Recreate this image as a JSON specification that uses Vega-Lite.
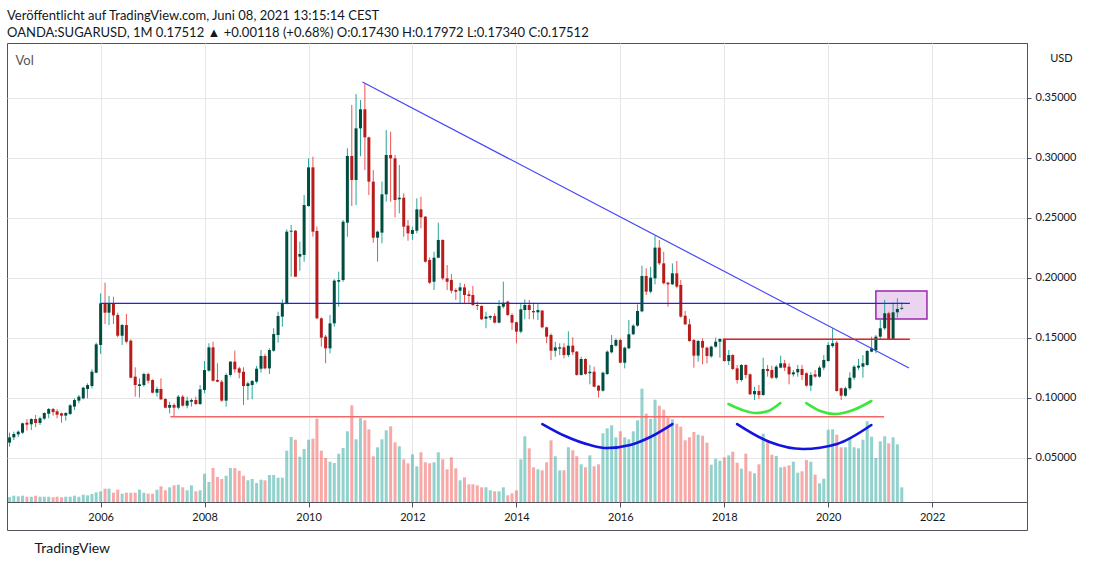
{
  "$schema": "https://vega.github.io/schema/vega-lite/v6.json",
  "width": 1020,
  "height": 459,
  "autosize": "none",
  "padding": {"left": 7, "top": 43, "right": 73, "bottom": 65},
  "background": "white",
  "title": {
    "text": "Veröffentlicht auf TradingView.com, Juni 08, 2021 13:15:14 CEST",
    "subtitle": "OANDA:SUGARUSD, 1M 0.17512 ▲ +0.00118 (+0.68%) O:0.17430 H:0.17972 L:0.17340 C:0.17512",
    "anchor": "start",
    "frame": "group",
    "font": "Lato",
    "fontSize": 13,
    "fontWeight": "normal",
    "color": "#131722",
    "subtitleFont": "Lato",
    "subtitleFontSize": 13,
    "subtitleColor": "#131722",
    "subtitlePadding": 4,
    "offset": 3
  },
  "datasets": {
    "ohlc": [
      {"d": "2004-04-01", "o": 0.0628, "h": 0.0711, "l": 0.0594, "c": 0.0672, "v": 5},
      {"d": "2004-05-01", "o": 0.0672, "h": 0.0719, "l": 0.0650, "c": 0.0700, "v": 6.3},
      {"d": "2004-06-01", "o": 0.0697, "h": 0.0730, "l": 0.0675, "c": 0.0719, "v": 5.7},
      {"d": "2004-07-01", "o": 0.0711, "h": 0.0794, "l": 0.0700, "c": 0.0789, "v": 6.3},
      {"d": "2004-08-01", "o": 0.0794, "h": 0.0825, "l": 0.0728, "c": 0.0778, "v": 5.3},
      {"d": "2004-09-01", "o": 0.0781, "h": 0.0831, "l": 0.0733, "c": 0.0825, "v": 5.3},
      {"d": "2004-10-01", "o": 0.0825, "h": 0.0858, "l": 0.0756, "c": 0.0792, "v": 6.3},
      {"d": "2004-11-01", "o": 0.0792, "h": 0.0844, "l": 0.0775, "c": 0.0831, "v": 5.3},
      {"d": "2004-12-01", "o": 0.0828, "h": 0.0881, "l": 0.0817, "c": 0.0875, "v": 5.3},
      {"d": "2005-01-01", "o": 0.0869, "h": 0.0917, "l": 0.0831, "c": 0.0908, "v": 5.3},
      {"d": "2005-02-01", "o": 0.0908, "h": 0.0917, "l": 0.0853, "c": 0.0883, "v": 4.7},
      {"d": "2005-03-01", "o": 0.0889, "h": 0.0906, "l": 0.0831, "c": 0.0861, "v": 5.3},
      {"d": "2005-04-01", "o": 0.0872, "h": 0.0878, "l": 0.0794, "c": 0.0853, "v": 4.7},
      {"d": "2005-05-01", "o": 0.0853, "h": 0.0881, "l": 0.0811, "c": 0.0875, "v": 5.3},
      {"d": "2005-06-01", "o": 0.0867, "h": 0.0950, "l": 0.0858, "c": 0.0939, "v": 5.3},
      {"d": "2005-07-01", "o": 0.0928, "h": 0.0997, "l": 0.0900, "c": 0.0983, "v": 6.3},
      {"d": "2005-08-01", "o": 0.0978, "h": 0.1025, "l": 0.0956, "c": 0.1011, "v": 5.3},
      {"d": "2005-09-01", "o": 0.0997, "h": 0.1094, "l": 0.0989, "c": 0.1086, "v": 7.3},
      {"d": "2005-10-01", "o": 0.1075, "h": 0.1122, "l": 0.0997, "c": 0.1108, "v": 6.7},
      {"d": "2005-11-01", "o": 0.1100, "h": 0.1239, "l": 0.1081, "c": 0.1219, "v": 8},
      {"d": "2005-12-01", "o": 0.1211, "h": 0.1461, "l": 0.1206, "c": 0.1447, "v": 9.7},
      {"d": "2006-01-01", "o": 0.1442, "h": 0.1872, "l": 0.1367, "c": 0.1789, "v": 10.7},
      {"d": "2006-02-01", "o": 0.1789, "h": 0.1961, "l": 0.1617, "c": 0.1711, "v": 13.3},
      {"d": "2006-03-01", "o": 0.1711, "h": 0.1850, "l": 0.1608, "c": 0.1789, "v": 13.3},
      {"d": "2006-04-01", "o": 0.1789, "h": 0.1844, "l": 0.1617, "c": 0.1689, "v": 9.3},
      {"d": "2006-05-01", "o": 0.1692, "h": 0.1711, "l": 0.1506, "c": 0.1519, "v": 12.3},
      {"d": "2006-06-01", "o": 0.1519, "h": 0.1617, "l": 0.1442, "c": 0.1608, "v": 8.3},
      {"d": "2006-07-01", "o": 0.1608, "h": 0.1700, "l": 0.1456, "c": 0.1469, "v": 9.3},
      {"d": "2006-08-01", "o": 0.1478, "h": 0.1489, "l": 0.1164, "c": 0.1169, "v": 9.3},
      {"d": "2006-09-01", "o": 0.1178, "h": 0.1256, "l": 0.1011, "c": 0.1108, "v": 9.3},
      {"d": "2006-10-01", "o": 0.1100, "h": 0.1164, "l": 0.1003, "c": 0.1114, "v": 12.3},
      {"d": "2006-11-01", "o": 0.1108, "h": 0.1211, "l": 0.1094, "c": 0.1200, "v": 9.3},
      {"d": "2006-12-01", "o": 0.1200, "h": 0.1211, "l": 0.1122, "c": 0.1144, "v": 8.3},
      {"d": "2007-01-01", "o": 0.1150, "h": 0.1156, "l": 0.1039, "c": 0.1044, "v": 8.3},
      {"d": "2007-02-01", "o": 0.1044, "h": 0.1094, "l": 0.1011, "c": 0.1075, "v": 12.3},
      {"d": "2007-03-01", "o": 0.1075, "h": 0.1164, "l": 0.0983, "c": 0.0989, "v": 15.7},
      {"d": "2007-04-01", "o": 0.0992, "h": 0.0997, "l": 0.0914, "c": 0.0919, "v": 11.7},
      {"d": "2007-05-01", "o": 0.0919, "h": 0.0969, "l": 0.0872, "c": 0.0942, "v": 14.7},
      {"d": "2007-06-01", "o": 0.0942, "h": 0.0956, "l": 0.0844, "c": 0.0919, "v": 16.7},
      {"d": "2007-07-01", "o": 0.0919, "h": 0.1025, "l": 0.0906, "c": 0.1011, "v": 17.3},
      {"d": "2007-08-01", "o": 0.1011, "h": 0.1025, "l": 0.0928, "c": 0.0936, "v": 14.7},
      {"d": "2007-09-01", "o": 0.0936, "h": 0.1011, "l": 0.0914, "c": 0.0978, "v": 11.7},
      {"d": "2007-10-01", "o": 0.0969, "h": 0.0997, "l": 0.0928, "c": 0.0983, "v": 16.7},
      {"d": "2007-11-01", "o": 0.0983, "h": 0.1011, "l": 0.0942, "c": 0.0950, "v": 10.7},
      {"d": "2007-12-01", "o": 0.0950, "h": 0.1108, "l": 0.0942, "c": 0.1072, "v": 11.7},
      {"d": "2008-01-01", "o": 0.1067, "h": 0.1308, "l": 0.1039, "c": 0.1233, "v": 28.3},
      {"d": "2008-02-01", "o": 0.1228, "h": 0.1456, "l": 0.1219, "c": 0.1422, "v": 20},
      {"d": "2008-03-01", "o": 0.1422, "h": 0.1469, "l": 0.1136, "c": 0.1144, "v": 34},
      {"d": "2008-04-01", "o": 0.1150, "h": 0.1289, "l": 0.1131, "c": 0.1136, "v": 25},
      {"d": "2008-05-01", "o": 0.1136, "h": 0.1150, "l": 0.0969, "c": 0.0978, "v": 23},
      {"d": "2008-06-01", "o": 0.0978, "h": 0.1206, "l": 0.0928, "c": 0.1192, "v": 26.3},
      {"d": "2008-07-01", "o": 0.1192, "h": 0.1308, "l": 0.1178, "c": 0.1303, "v": 34},
      {"d": "2008-08-01", "o": 0.1303, "h": 0.1394, "l": 0.1211, "c": 0.1239, "v": 34},
      {"d": "2008-09-01", "o": 0.1247, "h": 0.1261, "l": 0.1164, "c": 0.1211, "v": 31.3},
      {"d": "2008-10-01", "o": 0.1219, "h": 0.1256, "l": 0.0942, "c": 0.1100, "v": 26.3},
      {"d": "2008-11-01", "o": 0.1100, "h": 0.1136, "l": 0.0983, "c": 0.1122, "v": 21.7},
      {"d": "2008-12-01", "o": 0.1108, "h": 0.1150, "l": 0.0989, "c": 0.1142, "v": 23},
      {"d": "2009-01-01", "o": 0.1136, "h": 0.1267, "l": 0.1122, "c": 0.1244, "v": 19},
      {"d": "2009-02-01", "o": 0.1244, "h": 0.1400, "l": 0.1211, "c": 0.1350, "v": 22.3},
      {"d": "2009-03-01", "o": 0.1350, "h": 0.1367, "l": 0.1239, "c": 0.1247, "v": 21.7},
      {"d": "2009-04-01", "o": 0.1247, "h": 0.1414, "l": 0.1200, "c": 0.1400, "v": 27},
      {"d": "2009-05-01", "o": 0.1394, "h": 0.1581, "l": 0.1386, "c": 0.1533, "v": 27},
      {"d": "2009-06-01", "o": 0.1525, "h": 0.1719, "l": 0.1461, "c": 0.1683, "v": 24.3},
      {"d": "2009-07-01", "o": 0.1678, "h": 0.1822, "l": 0.1594, "c": 0.1789, "v": 24.3},
      {"d": "2009-08-01", "o": 0.1789, "h": 0.2406, "l": 0.1780, "c": 0.2386, "v": 51.3},
      {"d": "2009-09-01", "o": 0.2386, "h": 0.2442, "l": 0.2011, "c": 0.2394, "v": 65},
      {"d": "2009-10-01", "o": 0.2394, "h": 0.2400, "l": 0.2011, "c": 0.2011, "v": 62.3},
      {"d": "2009-11-01", "o": 0.2178, "h": 0.2303, "l": 0.2061, "c": 0.2200, "v": 45.3},
      {"d": "2009-12-01", "o": 0.2192, "h": 0.2692, "l": 0.2136, "c": 0.2608, "v": 53},
      {"d": "2010-01-01", "o": 0.2600, "h": 0.2997, "l": 0.2594, "c": 0.2922, "v": 62.3},
      {"d": "2010-02-01", "o": 0.2922, "h": 0.3011, "l": 0.2344, "c": 0.2386, "v": 63.3},
      {"d": "2010-03-01", "o": 0.2392, "h": 0.2428, "l": 0.1656, "c": 0.1664, "v": 83.3},
      {"d": "2010-04-01", "o": 0.1664, "h": 0.1672, "l": 0.1428, "c": 0.1503, "v": 51.3},
      {"d": "2010-05-01", "o": 0.1511, "h": 0.1525, "l": 0.1289, "c": 0.1414, "v": 44},
      {"d": "2010-06-01", "o": 0.1414, "h": 0.1692, "l": 0.1372, "c": 0.1622, "v": 40.3},
      {"d": "2010-07-01", "o": 0.1622, "h": 0.1989, "l": 0.1594, "c": 0.1978, "v": 39},
      {"d": "2010-08-01", "o": 0.1969, "h": 0.2053, "l": 0.1761, "c": 0.1983, "v": 48.3},
      {"d": "2010-09-01", "o": 0.1983, "h": 0.2483, "l": 0.1969, "c": 0.2469, "v": 54},
      {"d": "2010-10-01", "o": 0.2461, "h": 0.3081, "l": 0.2344, "c": 0.3017, "v": 70.7},
      {"d": "2010-11-01", "o": 0.3017, "h": 0.3442, "l": 0.2600, "c": 0.2817, "v": 96.7},
      {"d": "2010-12-01", "o": 0.2817, "h": 0.3533, "l": 0.2608, "c": 0.3247, "v": 62.7},
      {"d": "2011-01-01", "o": 0.3247, "h": 0.3483, "l": 0.3014, "c": 0.3406, "v": 84},
      {"d": "2011-02-01", "o": 0.3406, "h": 0.3622, "l": 0.2900, "c": 0.3172, "v": 81.7},
      {"d": "2011-03-01", "o": 0.3172, "h": 0.3178, "l": 0.2692, "c": 0.2803, "v": 72.7},
      {"d": "2011-04-01", "o": 0.2803, "h": 0.2900, "l": 0.2294, "c": 0.2336, "v": 45.7},
      {"d": "2011-05-01", "o": 0.2336, "h": 0.2394, "l": 0.2136, "c": 0.2386, "v": 54.7},
      {"d": "2011-06-01", "o": 0.2378, "h": 0.2803, "l": 0.2289, "c": 0.2697, "v": 62.7},
      {"d": "2011-07-01", "o": 0.2697, "h": 0.3233, "l": 0.2636, "c": 0.3025, "v": 71.7},
      {"d": "2011-08-01", "o": 0.3025, "h": 0.3219, "l": 0.2636, "c": 0.2997, "v": 75.7},
      {"d": "2011-09-01", "o": 0.2997, "h": 0.3025, "l": 0.2506, "c": 0.2650, "v": 59.7},
      {"d": "2011-10-01", "o": 0.2656, "h": 0.2942, "l": 0.2539, "c": 0.2669, "v": 55.7},
      {"d": "2011-11-01", "o": 0.2669, "h": 0.2706, "l": 0.2344, "c": 0.2428, "v": 42.7},
      {"d": "2011-12-01", "o": 0.2436, "h": 0.2483, "l": 0.2311, "c": 0.2372, "v": 38.7},
      {"d": "2012-01-01", "o": 0.2367, "h": 0.2428, "l": 0.2317, "c": 0.2400, "v": 47.7},
      {"d": "2012-02-01", "o": 0.2394, "h": 0.2664, "l": 0.2372, "c": 0.2572, "v": 35.7},
      {"d": "2012-03-01", "o": 0.2572, "h": 0.2678, "l": 0.2414, "c": 0.2506, "v": 49.7},
      {"d": "2012-04-01", "o": 0.2511, "h": 0.2517, "l": 0.2128, "c": 0.2136, "v": 39.7},
      {"d": "2012-05-01", "o": 0.2150, "h": 0.2172, "l": 0.1950, "c": 0.1961, "v": 38.7},
      {"d": "2012-06-01", "o": 0.1969, "h": 0.2219, "l": 0.1900, "c": 0.2169, "v": 39.7},
      {"d": "2012-07-01", "o": 0.2169, "h": 0.2461, "l": 0.2164, "c": 0.2317, "v": 49.7},
      {"d": "2012-08-01", "o": 0.2317, "h": 0.2322, "l": 0.1983, "c": 0.1997, "v": 42.7},
      {"d": "2012-09-01", "o": 0.1997, "h": 0.2108, "l": 0.1900, "c": 0.1969, "v": 32.7},
      {"d": "2012-10-01", "o": 0.1983, "h": 0.2033, "l": 0.1872, "c": 0.1894, "v": 44.7},
      {"d": "2012-11-01", "o": 0.1900, "h": 0.1914, "l": 0.1817, "c": 0.1886, "v": 33.7},
      {"d": "2012-12-01", "o": 0.1894, "h": 0.1961, "l": 0.1789, "c": 0.1922, "v": 21.7},
      {"d": "2013-01-01", "o": 0.1922, "h": 0.1950, "l": 0.1789, "c": 0.1858, "v": 24.7},
      {"d": "2013-02-01", "o": 0.1864, "h": 0.1894, "l": 0.1794, "c": 0.1850, "v": 17.7},
      {"d": "2013-03-01", "o": 0.1858, "h": 0.1933, "l": 0.1767, "c": 0.1775, "v": 17.7},
      {"d": "2013-04-01", "o": 0.1775, "h": 0.1803, "l": 0.1733, "c": 0.1767, "v": 16.7},
      {"d": "2013-05-01", "o": 0.1767, "h": 0.1772, "l": 0.1650, "c": 0.1656, "v": 14.7},
      {"d": "2013-06-01", "o": 0.1661, "h": 0.1719, "l": 0.1581, "c": 0.1678, "v": 14.7},
      {"d": "2013-07-01", "o": 0.1669, "h": 0.1689, "l": 0.1650, "c": 0.1683, "v": 11.7},
      {"d": "2013-08-01", "o": 0.1683, "h": 0.1706, "l": 0.1622, "c": 0.1628, "v": 10.7},
      {"d": "2013-09-01", "o": 0.1628, "h": 0.1817, "l": 0.1622, "c": 0.1767, "v": 10.7},
      {"d": "2013-10-01", "o": 0.1761, "h": 0.1969, "l": 0.1747, "c": 0.1794, "v": 14.7},
      {"d": "2013-11-01", "o": 0.1803, "h": 0.1811, "l": 0.1683, "c": 0.1692, "v": 6.7},
      {"d": "2013-12-01", "o": 0.1692, "h": 0.1706, "l": 0.1567, "c": 0.1628, "v": 8.7},
      {"d": "2014-01-01", "o": 0.1631, "h": 0.1636, "l": 0.1456, "c": 0.1553, "v": 11.7},
      {"d": "2014-02-01", "o": 0.1553, "h": 0.1789, "l": 0.1539, "c": 0.1739, "v": 42.7},
      {"d": "2014-03-01", "o": 0.1733, "h": 0.1822, "l": 0.1656, "c": 0.1775, "v": 65.7},
      {"d": "2014-04-01", "o": 0.1775, "h": 0.1817, "l": 0.1656, "c": 0.1733, "v": 53.7},
      {"d": "2014-05-01", "o": 0.1725, "h": 0.1794, "l": 0.1656, "c": 0.1714, "v": 34.7},
      {"d": "2014-06-01", "o": 0.1714, "h": 0.1789, "l": 0.1650, "c": 0.1733, "v": 32.7},
      {"d": "2014-07-01", "o": 0.1728, "h": 0.1733, "l": 0.1581, "c": 0.1589, "v": 31.7},
      {"d": "2014-08-01", "o": 0.1589, "h": 0.1594, "l": 0.1456, "c": 0.1511, "v": 39.7},
      {"d": "2014-09-01", "o": 0.1525, "h": 0.1539, "l": 0.1317, "c": 0.1394, "v": 61.7},
      {"d": "2014-10-01", "o": 0.1394, "h": 0.1469, "l": 0.1344, "c": 0.1422, "v": 45.7},
      {"d": "2014-11-01", "o": 0.1411, "h": 0.1456, "l": 0.1358, "c": 0.1422, "v": 31.7},
      {"d": "2014-12-01", "o": 0.1422, "h": 0.1456, "l": 0.1331, "c": 0.1358, "v": 31.7},
      {"d": "2015-01-01", "o": 0.1358, "h": 0.1556, "l": 0.1340, "c": 0.1436, "v": 54.7},
      {"d": "2015-02-01", "o": 0.1436, "h": 0.1506, "l": 0.1358, "c": 0.1381, "v": 51.7},
      {"d": "2015-03-01", "o": 0.1386, "h": 0.1392, "l": 0.1186, "c": 0.1192, "v": 45.7},
      {"d": "2015-04-01", "o": 0.1192, "h": 0.1344, "l": 0.1186, "c": 0.1325, "v": 37.7},
      {"d": "2015-05-01", "o": 0.1325, "h": 0.1331, "l": 0.1192, "c": 0.1200, "v": 34.7},
      {"d": "2015-06-01", "o": 0.1206, "h": 0.1275, "l": 0.1114, "c": 0.1219, "v": 46.7},
      {"d": "2015-07-01", "o": 0.1219, "h": 0.1261, "l": 0.1089, "c": 0.1094, "v": 35.7},
      {"d": "2015-08-01", "o": 0.1103, "h": 0.1108, "l": 0.1003, "c": 0.1061, "v": 37.7},
      {"d": "2015-09-01", "o": 0.1061, "h": 0.1219, "l": 0.1053, "c": 0.1211, "v": 68.7},
      {"d": "2015-10-01", "o": 0.1200, "h": 0.1397, "l": 0.1192, "c": 0.1386, "v": 73.7},
      {"d": "2015-11-01", "o": 0.1381, "h": 0.1525, "l": 0.1372, "c": 0.1442, "v": 76.7},
      {"d": "2015-12-01", "o": 0.1436, "h": 0.1497, "l": 0.1428, "c": 0.1483, "v": 64.7},
      {"d": "2016-01-01", "o": 0.1483, "h": 0.1497, "l": 0.1289, "c": 0.1294, "v": 70.7},
      {"d": "2016-02-01", "o": 0.1294, "h": 0.1428, "l": 0.1247, "c": 0.1419, "v": 64.7},
      {"d": "2016-03-01", "o": 0.1414, "h": 0.1650, "l": 0.1408, "c": 0.1531, "v": 62.7},
      {"d": "2016-04-01", "o": 0.1531, "h": 0.1614, "l": 0.1525, "c": 0.1603, "v": 70.7},
      {"d": "2016-05-01", "o": 0.1603, "h": 0.1781, "l": 0.1594, "c": 0.1725, "v": 81.7},
      {"d": "2016-06-01", "o": 0.1722, "h": 0.2103, "l": 0.1714, "c": 0.2017, "v": 113.3},
      {"d": "2016-07-01", "o": 0.2017, "h": 0.2081, "l": 0.1858, "c": 0.1886, "v": 88.3},
      {"d": "2016-08-01", "o": 0.1886, "h": 0.2094, "l": 0.1872, "c": 0.2003, "v": 83.3},
      {"d": "2016-09-01", "o": 0.1997, "h": 0.2353, "l": 0.1947, "c": 0.2253, "v": 102.3},
      {"d": "2016-10-01", "o": 0.2253, "h": 0.2317, "l": 0.2108, "c": 0.2122, "v": 96.3},
      {"d": "2016-11-01", "o": 0.2122, "h": 0.2219, "l": 0.1947, "c": 0.1956, "v": 92.3},
      {"d": "2016-12-01", "o": 0.1961, "h": 0.1969, "l": 0.1761, "c": 0.1947, "v": 84.3},
      {"d": "2017-01-01", "o": 0.1947, "h": 0.2122, "l": 0.1942, "c": 0.2039, "v": 82.7},
      {"d": "2017-02-01", "o": 0.2039, "h": 0.2142, "l": 0.1914, "c": 0.1928, "v": 78.3},
      {"d": "2017-03-01", "o": 0.1942, "h": 0.1983, "l": 0.1669, "c": 0.1678, "v": 75.3},
      {"d": "2017-04-01", "o": 0.1686, "h": 0.1725, "l": 0.1608, "c": 0.1614, "v": 61.7},
      {"d": "2017-05-01", "o": 0.1614, "h": 0.1658, "l": 0.1469, "c": 0.1475, "v": 64.7},
      {"d": "2017-06-01", "o": 0.1483, "h": 0.1492, "l": 0.1253, "c": 0.1353, "v": 70},
      {"d": "2017-07-01", "o": 0.1353, "h": 0.1483, "l": 0.1303, "c": 0.1475, "v": 67.3},
      {"d": "2017-08-01", "o": 0.1475, "h": 0.1497, "l": 0.1281, "c": 0.1419, "v": 66.3},
      {"d": "2017-09-01", "o": 0.1419, "h": 0.1428, "l": 0.1289, "c": 0.1350, "v": 59.3},
      {"d": "2017-10-01", "o": 0.1347, "h": 0.1436, "l": 0.1336, "c": 0.1428, "v": 37.3},
      {"d": "2017-11-01", "o": 0.1428, "h": 0.1503, "l": 0.1419, "c": 0.1469, "v": 43.3},
      {"d": "2017-12-01", "o": 0.1469, "h": 0.1497, "l": 0.1336, "c": 0.1492, "v": 41.3},
      {"d": "2018-01-01", "o": 0.1492, "h": 0.1497, "l": 0.1303, "c": 0.1308, "v": 44.7},
      {"d": "2018-02-01", "o": 0.1308, "h": 0.1400, "l": 0.1275, "c": 0.1358, "v": 46.7},
      {"d": "2018-03-01", "o": 0.1358, "h": 0.1364, "l": 0.1233, "c": 0.1242, "v": 50.3},
      {"d": "2018-04-01", "o": 0.1247, "h": 0.1275, "l": 0.1120, "c": 0.1150, "v": 39.3},
      {"d": "2018-05-01", "o": 0.1150, "h": 0.1283, "l": 0.1136, "c": 0.1275, "v": 33.3},
      {"d": "2018-06-01", "o": 0.1275, "h": 0.1281, "l": 0.1164, "c": 0.1192, "v": 48.3},
      {"d": "2018-07-01", "o": 0.1197, "h": 0.1206, "l": 0.1025, "c": 0.1031, "v": 30.7},
      {"d": "2018-08-01", "o": 0.1031, "h": 0.1094, "l": 0.0983, "c": 0.1058, "v": 28.7},
      {"d": "2018-09-01", "o": 0.1058, "h": 0.1108, "l": 0.0992, "c": 0.1025, "v": 37.7},
      {"d": "2018-10-01", "o": 0.1025, "h": 0.1336, "l": 0.1019, "c": 0.1242, "v": 68.3},
      {"d": "2018-11-01", "o": 0.1242, "h": 0.1275, "l": 0.1178, "c": 0.1225, "v": 61.7},
      {"d": "2018-12-01", "o": 0.1233, "h": 0.1269, "l": 0.1158, "c": 0.1169, "v": 47.3},
      {"d": "2019-01-01", "o": 0.1169, "h": 0.1275, "l": 0.1158, "c": 0.1261, "v": 46},
      {"d": "2019-02-01", "o": 0.1253, "h": 0.1353, "l": 0.1247, "c": 0.1289, "v": 34.7},
      {"d": "2019-03-01", "o": 0.1289, "h": 0.1317, "l": 0.1225, "c": 0.1253, "v": 35.3},
      {"d": "2019-04-01", "o": 0.1261, "h": 0.1289, "l": 0.1114, "c": 0.1197, "v": 36.7},
      {"d": "2019-05-01", "o": 0.1197, "h": 0.1233, "l": 0.1178, "c": 0.1214, "v": 40.3},
      {"d": "2019-06-01", "o": 0.1214, "h": 0.1275, "l": 0.1178, "c": 0.1242, "v": 29.3},
      {"d": "2019-07-01", "o": 0.1242, "h": 0.1275, "l": 0.1150, "c": 0.1192, "v": 30.7},
      {"d": "2019-08-01", "o": 0.1206, "h": 0.1214, "l": 0.1094, "c": 0.1103, "v": 42},
      {"d": "2019-09-01", "o": 0.1103, "h": 0.1214, "l": 0.1058, "c": 0.1192, "v": 40.3},
      {"d": "2019-10-01", "o": 0.1197, "h": 0.1233, "l": 0.1169, "c": 0.1178, "v": 27.3},
      {"d": "2019-11-01", "o": 0.1178, "h": 0.1269, "l": 0.1169, "c": 0.1253, "v": 18.7},
      {"d": "2019-12-01", "o": 0.1253, "h": 0.1358, "l": 0.1233, "c": 0.1317, "v": 23.3},
      {"d": "2020-01-01", "o": 0.1308, "h": 0.1464, "l": 0.1303, "c": 0.1442, "v": 72.3},
      {"d": "2020-02-01", "o": 0.1433, "h": 0.1581, "l": 0.1419, "c": 0.1456, "v": 72.7},
      {"d": "2020-03-01", "o": 0.1461, "h": 0.1475, "l": 0.1053, "c": 0.1058, "v": 67.3},
      {"d": "2020-04-01", "o": 0.1081, "h": 0.1086, "l": 0.0983, "c": 0.1019, "v": 54.7},
      {"d": "2020-05-01", "o": 0.1019, "h": 0.1094, "l": 0.1011, "c": 0.1081, "v": 54.7},
      {"d": "2020-06-01", "o": 0.1081, "h": 0.1214, "l": 0.1067, "c": 0.1169, "v": 63.3},
      {"d": "2020-07-01", "o": 0.1169, "h": 0.1275, "l": 0.1150, "c": 0.1261, "v": 54.7},
      {"d": "2020-08-01", "o": 0.1253, "h": 0.1325, "l": 0.1233, "c": 0.1269, "v": 53.7},
      {"d": "2020-09-01", "o": 0.1261, "h": 0.1358, "l": 0.1169, "c": 0.1289, "v": 62.3},
      {"d": "2020-10-01", "o": 0.1275, "h": 0.1400, "l": 0.1269, "c": 0.1392, "v": 80.7},
      {"d": "2020-11-01", "o": 0.1386, "h": 0.1511, "l": 0.1381, "c": 0.1414, "v": 65.3},
      {"d": "2020-12-01", "o": 0.1400, "h": 0.1525, "l": 0.1372, "c": 0.1511, "v": 44},
      {"d": "2021-01-01", "o": 0.1511, "h": 0.1650, "l": 0.1492, "c": 0.1581, "v": 60.7},
      {"d": "2021-02-01", "o": 0.1581, "h": 0.1817, "l": 0.1567, "c": 0.1706, "v": 65.7},
      {"d": "2021-03-01", "o": 0.1706, "h": 0.1719, "l": 0.1483, "c": 0.1492, "v": 58.7},
      {"d": "2021-04-01", "o": 0.1492, "h": 0.1797, "l": 0.1486, "c": 0.1714, "v": 64.7},
      {"d": "2021-05-01", "o": 0.1714, "h": 0.1831, "l": 0.1669, "c": 0.1742, "v": 57.7},
      {"d": "2021-06-01", "o": 0.1743, "h": 0.1797, "l": 0.1734, "c": 0.1751, "v": 14.7}
    ],
    "lines": [
      {"name": "trend", "d": "2011-01-15", "d2": "2021-07-22", "p": 0.3633, "p2": 0.125},
      {"name": "resistance", "d": "2006-01-01", "d2": "2021-07-28", "p": 0.1789, "p2": 0.1789},
      {"name": "neckline", "d": "2017-12-24", "d2": "2021-07-28", "p": 0.149, "p2": 0.149},
      {"name": "floor", "d": "2007-05-06", "d2": "2021-01-28", "p": 0.0844, "p2": 0.0844}
    ],
    "box": [
      {"d": "2020-12-01", "d2": "2021-11-25", "p": 0.1892, "p2": 0.1658}
    ],
    "arcs": [
      {"arc": "b1", "kind": "blue arc", "d": "2014-07-02", "p": 0.0783},
      {"arc": "b1", "kind": "blue arc", "d": "2014-12-09", "p": 0.0683},
      {"arc": "b1", "kind": "blue arc", "d": "2015-06-03", "p": 0.0608},
      {"arc": "b1", "kind": "blue arc", "d": "2015-10-01", "p": 0.0583},
      {"arc": "b1", "kind": "blue arc", "d": "2016-03-10", "p": 0.0608},
      {"arc": "b1", "kind": "blue arc", "d": "2016-07-30", "p": 0.0675},
      {"arc": "b1", "kind": "blue arc", "d": "2017-01-01", "p": 0.0783},
      {"arc": "b2", "kind": "blue arc", "d": "2018-04-01", "p": 0.0783},
      {"arc": "b2", "kind": "blue arc", "d": "2018-11-16", "p": 0.0633},
      {"arc": "b2", "kind": "blue arc", "d": "2019-07-08", "p": 0.0575},
      {"arc": "b2", "kind": "blue arc", "d": "2020-03-03", "p": 0.0617},
      {"arc": "b2", "kind": "blue arc", "d": "2020-10-30", "p": 0.0775},
      {"arc": "g1", "kind": "green arc", "d": "2018-01-30", "p": 0.0950},
      {"arc": "g1", "kind": "green arc", "d": "2018-05-08", "p": 0.0900},
      {"arc": "g1", "kind": "green arc", "d": "2018-08-08", "p": 0.0875},
      {"arc": "g1", "kind": "green arc", "d": "2018-11-06", "p": 0.0892},
      {"arc": "g1", "kind": "green arc", "d": "2019-01-30", "p": 0.0958},
      {"arc": "g2", "kind": "green arc", "d": "2019-07-31", "p": 0.0958},
      {"arc": "g2", "kind": "green arc", "d": "2019-11-06", "p": 0.0892},
      {"arc": "g2", "kind": "green arc", "d": "2020-02-18", "p": 0.0867},
      {"arc": "g2", "kind": "green arc", "d": "2020-06-25", "p": 0.0900},
      {"arc": "g2", "kind": "green arc", "d": "2020-10-30", "p": 0.0975}
    ]
  },
  "encoding": {
    "x": {
      "field": "d",
      "type": "temporal",
      "scale": {"type": "utc", "domain": ["2004-03-14", "2023-10-29"], "nice": false, "padding": 0},
      "axis": {
        "values": [
          {"year": 2006, "utc": true}, {"year": 2008, "utc": true}, {"year": 2010, "utc": true},
          {"year": 2012, "utc": true}, {"year": 2014, "utc": true}, {"year": 2016, "utc": true},
          {"year": 2018, "utc": true}, {"year": 2020, "utc": true}, {"year": 2022, "utc": true}
        ],
        "format": "%Y",
        "grid": true,
        "labelPadding": 4,
        "labelFlush": false,
        "title": "TradingView",
        "titleX": 27,
        "titleY": 46,
        "titleAlign": "left",
        "titleAnchor": null,
        "titleBaseline": "middle",
        "titleFontSize": 14,
        "titleFontWeight": "normal",
        "titleColor": "#131722"
      }
    }
  },
  "layer": [
    {
      "data": {"name": "ohlc"},
      "mark": {"type": "bar", "width": 3, "opacity": 0.5},
      "encoding": {
        "y": {
          "field": "v",
          "type": "quantitative",
          "scale": {"domain": [0, 459], "nice": false},
          "axis": {
            "orient": "right",
            "offset": 66,
            "values": [0, 459],
            "title": "Vol",
            "titleAngle": 0,
            "titleX": -1078,
            "titleY": 17,
            "titleAlign": "left",
            "titleBaseline": "middle",
            "titleFontSize": 13,
            "titleFontWeight": "normal",
            "titleColor": "#555555",
            "labels": false,
            "ticks": false,
            "domain": false,
            "grid": false
          }
        },
        "color": {"condition": {"test": "datum.c >= datum.o", "value": "#26a69a"}, "value": "#ef5350"}
      }
    },
    {
      "encoding": {
        "x": {
          "field": "d",
          "type": "temporal",
          "scale": {"type": "utc", "domain": ["2004-03-14", "2023-10-29"], "nice": false, "padding": 0},
          "axis": {
            "orient": "bottom",
            "offset": 28,
            "values": [{"year": 2004, "month": 3, "date": 15, "utc": true}, {"year": 2023, "month": 10, "date": 28, "utc": true}],
            "labels": false,
            "grid": false,
            "domain": true,
            "ticks": true,
            "tickSize": -28,
            "title": null
          }
        }
      },
      "layer": [
        {
          "data": {"name": "box"},
          "mark": {"type": "rect", "fill": "#9c27b0", "fillOpacity": 0.2, "stroke": "#9c27b0", "strokeWidth": 1.5},
          "encoding": {
            "x2": {"field": "d2"},
            "y": {
              "field": "p",
              "type": "quantitative",
              "scale": {"domain": [0.01333, 0.39583], "nice": false, "zero": false},
              "axis": {
                "orient": "right",
                "values": [0.05, 0.1, 0.15, 0.2, 0.25, 0.3, 0.35],
                "format": ".5f",
                "grid": true,
                "tickSize": 4,
                "labelPadding": 4,
                "title": "USD",
                "titleAngle": 0,
                "titleX": 34,
                "titleY": 15,
                "titleAlign": "center",
                "titleBaseline": "middle",
                "titleFontSize": 11,
                "titleFontWeight": "normal",
                "titleColor": "#131722"
              }
            },
            "y2": {"field": "p2"}
          }
        },
        {
          "data": {"name": "ohlc"},
          "mark": {"type": "rule", "strokeWidth": 1},
          "encoding": {
            "y": {"field": "l", "type": "quantitative"},
            "y2": {"field": "h"},
            "color": {"condition": {"test": "datum.c >= datum.o", "value": "#26a69a"}, "value": "#ef5350"}
          }
        },
        {
          "data": {"name": "ohlc"},
          "mark": {"type": "bar", "width": 3},
          "encoding": {
            "y": {"field": "o", "type": "quantitative"},
            "y2": {"field": "c"},
            "color": {"condition": {"test": "datum.c >= datum.o", "value": "#004d40"}, "value": "#b71c1c"}
          }
        },
        {
          "data": {"name": "lines"},
          "mark": {"type": "rule"},
          "encoding": {
            "x2": {"field": "d2"},
            "y": {"field": "p", "type": "quantitative"},
            "y2": {"field": "p2"},
            "color": {
              "field": "name",
              "type": "nominal",
              "scale": {"domain": ["trend", "resistance", "neckline", "floor", "blue arc", "green arc"], "range": ["#4646fa", "#2222ee", "#e52222", "#f26666", "#1414e0", "#3de63d"]},
              "legend": null
            },
            "strokeWidth": {
              "field": "name",
              "type": "nominal",
              "scale": {"domain": ["trend", "resistance", "neckline", "floor"], "range": [1.2, 1.6, 1.6, 1.8]},
              "legend": null
            }
          }
        },
        {
          "data": {"name": "arcs"},
          "mark": {"type": "line", "interpolate": "monotone", "strokeWidth": 2.6, "strokeCap": "round"},
          "encoding": {
            "y": {"field": "p", "type": "quantitative"},
            "detail": {"field": "arc", "type": "nominal"},
            "color": {
              "field": "kind",
              "type": "nominal",
              "scale": {"domain": ["trend", "resistance", "neckline", "floor", "blue arc", "green arc"], "range": ["#4646fa", "#2222ee", "#e52222", "#f26666", "#1414e0", "#3de63d"]},
              "legend": null
            }
          }
        }
      ]
    }
  ],
  "resolve": {
    "scale": {"y": "independent", "color": "independent", "strokeWidth": "independent"},
    "axis": {"x": "independent"}
  },
  "config": {
    "view": {"stroke": "#50535e", "strokeWidth": 1},
    "axis": {
      "labelFont": "Lato",
      "labelFontSize": 11,
      "labelColor": "#131722",
      "titleFont": "Lato",
      "gridColor": "#e6e6e6",
      "gridWidth": 1,
      "domainColor": "#50535e",
      "tickColor": "#50535e",
      "tickSize": 5
    }
  }
}
